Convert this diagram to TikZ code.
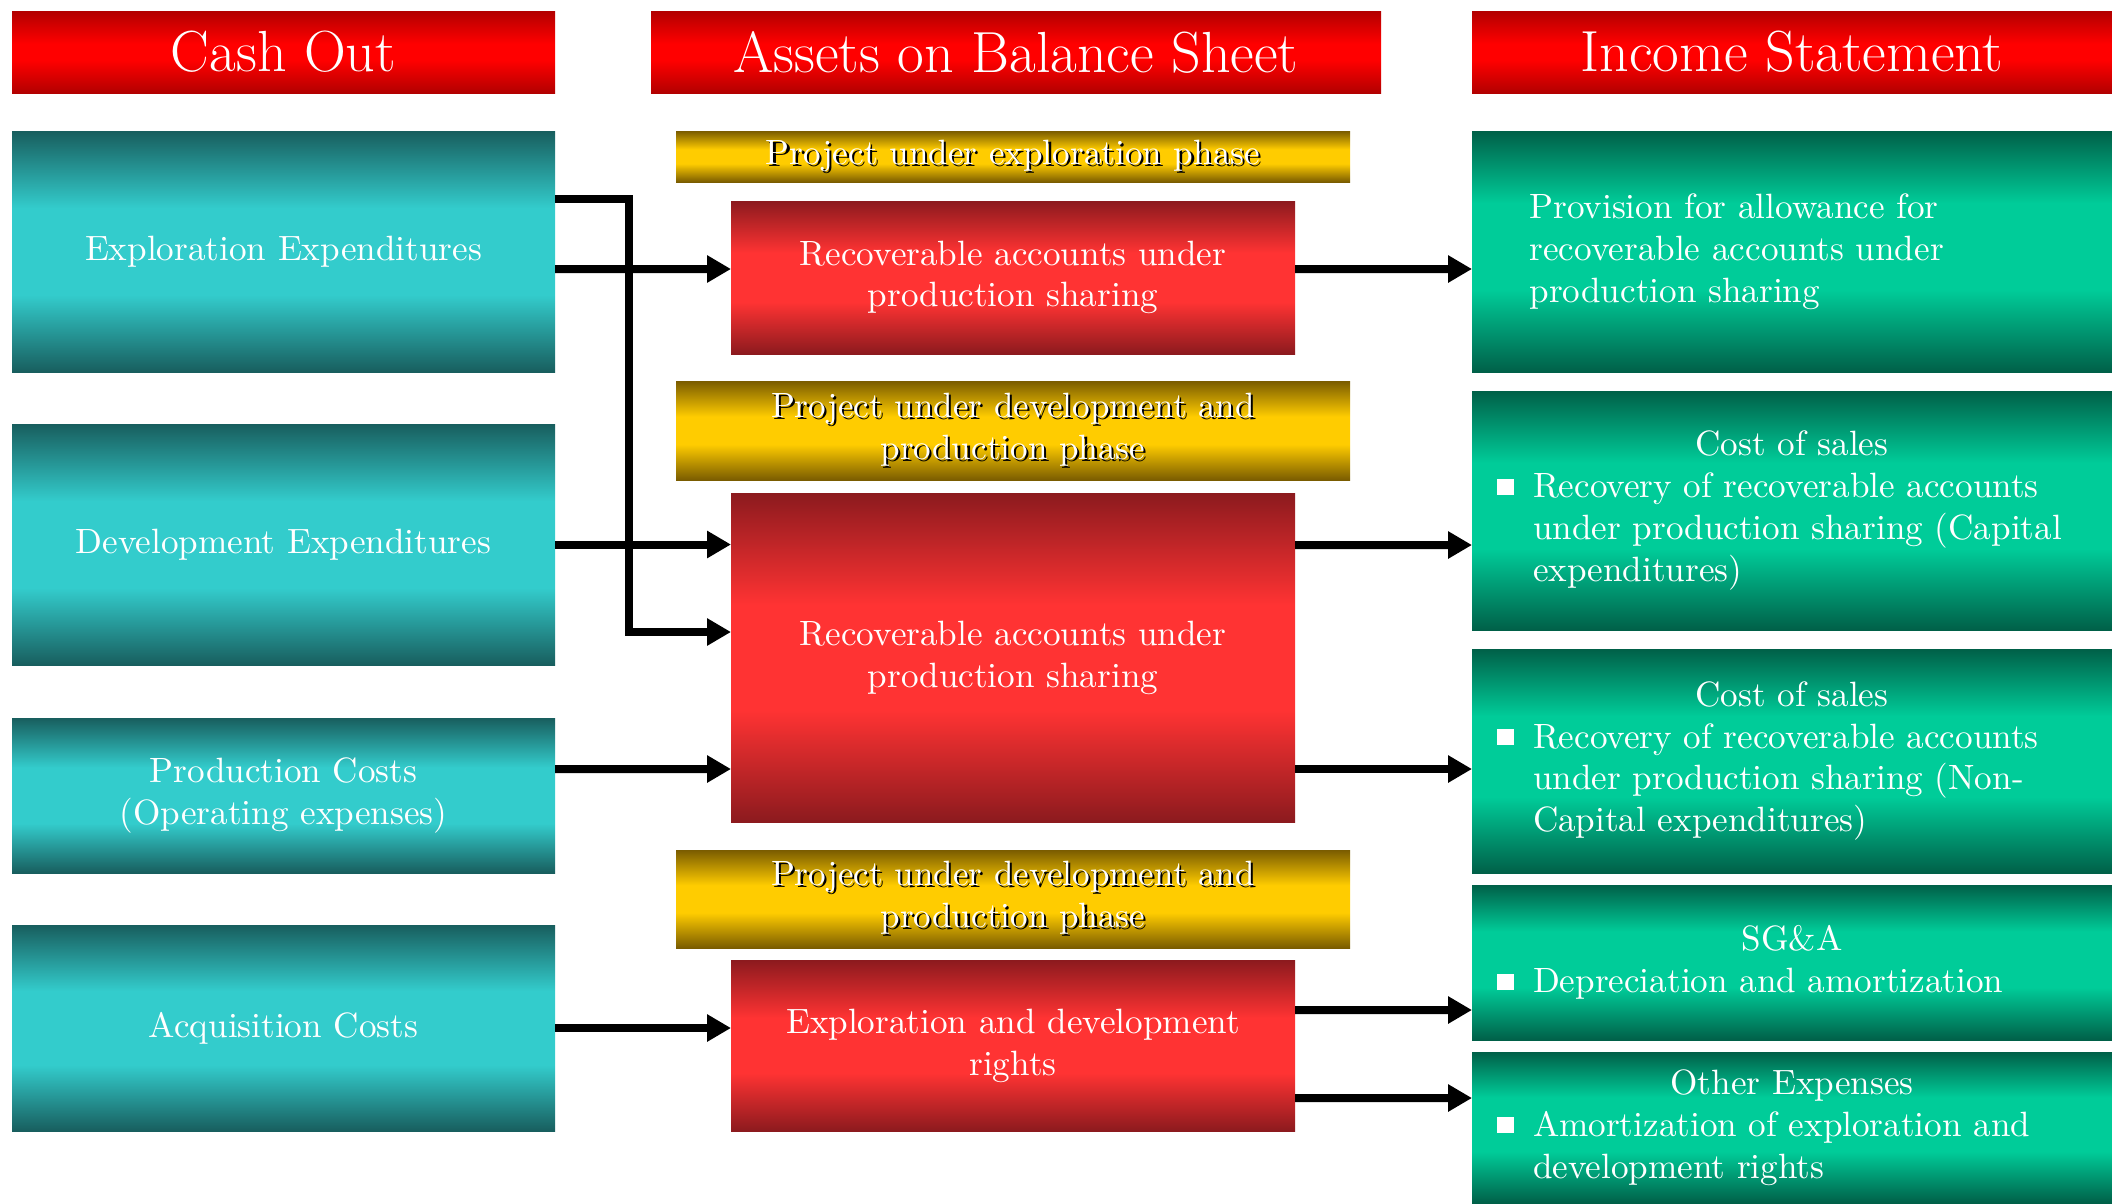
\documentclass[tikz,border=0pt]{standalone}
\usepackage{xcolor}
\usetikzlibrary{positioning, arrows.meta}

\definecolor{hdrdark}{RGB}{178,0,0}
\definecolor{hdrlight}{RGB}{255,0,0}
\definecolor{tealdark}{RGB}{24,94,94}
\definecolor{teallight}{RGB}{51,204,204}
\definecolor{golddark}{RGB}{122,92,0}
\definecolor{goldlight}{RGB}{255,204,0}
\definecolor{reddark}{RGB}{140,26,30}
\definecolor{redlight}{RGB}{255,51,51}
\definecolor{greendark}{RGB}{0,96,72}
\definecolor{greenlight}{RGB}{0,204,153}

\pgfdeclareverticalshading{hdrshade}{100bp}{color(0bp)=(hdrdark); color(25bp)=(hdrdark); color(45bp)=(hdrlight); color(55bp)=(hdrlight); color(75bp)=(hdrdark); color(100bp)=(hdrdark)}
\pgfdeclareverticalshading{tealshade}{100bp}{color(0bp)=(tealdark); color(25bp)=(tealdark); color(41bp)=(teallight); color(59bp)=(teallight); color(75bp)=(tealdark); color(100bp)=(tealdark)}
\pgfdeclareverticalshading{goldshade}{100bp}{color(0bp)=(golddark); color(25bp)=(golddark); color(43bp)=(goldlight); color(57bp)=(goldlight); color(75bp)=(golddark); color(100bp)=(golddark)}
\pgfdeclareverticalshading{redshade}{100bp}{color(0bp)=(reddark); color(25bp)=(reddark); color(42bp)=(redlight); color(58bp)=(redlight); color(75bp)=(reddark); color(100bp)=(reddark)}
\pgfdeclareverticalshading{greenshade}{100bp}{color(0bp)=(greendark); color(25bp)=(greendark); color(42bp)=(greenlight); color(60bp)=(greenlight); color(75bp)=(greendark); color(100bp)=(greendark)}

\newcommand{\shadowed}[1]{\makebox[0pt][l]{\hspace{0.6pt}\raisebox{-0.6pt}{\color{black}#1}}#1}
\newcommand{\sqbullet}{\makebox[0.36cm][l]{\rule[0.03cm]{0.17cm}{0.16cm}}}
\newcommand{\headline}[1]{{\centering #1\par}}
\newcommand{\bulletline}[1]{{\raggedright\hangindent=0.36cm\hangafter=1\noindent\sqbullet #1\par}}

\begin{document}
\begin{tikzpicture}[>={Triangle[length=0.24cm,width=0.26cm]},
    every node/.style={outer sep=0pt, inner sep=0pt, text=white, font=\fontsize{10}{11.9}\selectfont},
    header/.style={shade, shading=hdrshade, minimum height=0.82cm, font=\fontsize{16.5}{19}\selectfont},
    cashbox/.style={shade, shading=tealshade, minimum width=5.43cm, align=center},
    phasebox/.style={shade, shading=goldshade, minimum width=6.74cm, align=center},
    assetbox/.style={shade, shading=redshade, minimum width=5.64cm, align=center},
    incbox/.style={shade, shading=greenshade, minimum width=6.40cm},
    flow/.style={->, line width=0.08cm}]
        \useasboundingbox (0,0) rectangle (21.12,-12.03);

        % Headers
        \node (h1) [header, minimum width=5.43cm] at (2.835,-0.52) {Cash Out};
        \node (h2) [header, minimum width=7.30cm] at (10.16,-0.52) {Assets on Balance Sheet};
        \node (h3) [header, minimum width=6.40cm] at (17.92,-0.52) {Income Statement};

        % Cash out
        \node (c1) [cashbox, minimum height=2.41cm, below=0.38cm of h1] {Exploration Expenditures};
        \node (c2) [cashbox, minimum height=2.41cm, below=0.52cm of c1] {Development Expenditures};
        \node (c3) [cashbox, minimum height=1.55cm, below=0.53cm of c2] {Production Costs\\(Operating expenses)};
        \node (c4) [cashbox, minimum height=2.06cm, below=0.52cm of c3] {Acquisition Costs};

        % Balance sheet
        \node (p1) [phasebox, minimum height=0.51cm, below=0.38cm of h2, xshift=-0.03cm] {\shadowed{Project under exploration phase}};
        \node (a1) [assetbox, minimum height=1.53cm, below=0.19cm of p1] {Recoverable accounts under\\production sharing};
        \node (p2) [phasebox, minimum height=0.99cm, below=0.27cm of a1] {\shadowed{Project under development and}\\\shadowed{production phase}};
        \node (a2) [assetbox, minimum height=3.29cm, below=0.13cm of p2] {Recoverable accounts under\\production sharing};
        \node (p3) [phasebox, minimum height=0.98cm, below=0.28cm of a2] {\shadowed{Project under development and}\\\shadowed{production phase}};
        \node (a3) [assetbox, minimum height=1.71cm, below=0.12cm of p3] {Exploration and development\\rights};

        % Income statement
        \node (i1) [incbox, minimum height=2.41cm, below=0.38cm of h3, text width=5.25cm, align=left] {Provision for allowance for\\recoverable accounts under\\production sharing};
        \node (i2) [incbox, minimum height=2.39cm, below=0.19cm of i1, text width=5.90cm] {\headline{Cost of sales}\bulletline{Recovery of recoverable accounts\newline under production sharing (Capital\newline expenditures)}};
        \node (i3) [incbox, minimum height=2.24cm, below=0.19cm of i2, text width=5.90cm] {\headline{Cost of sales}\bulletline{Recovery of recoverable accounts\newline under production sharing (Non-\newline Capital expenditures)}};
        \node (i4) [incbox, minimum height=1.55cm, below=0.12cm of i3, text width=5.90cm] {\headline{SG\&A}\bulletline{Depreciation and amortization}};
        \node (i5) [incbox, minimum height=1.51cm, below=0.12cm of i4, text width=5.90cm] {\headline{Other Expenses}\bulletline{Amortization of exploration and\newline development rights}};

        % Arrows
        \draw[flow] ([yshift=-0.175cm]c1.east) -- ([yshift=0.085cm]a1.west);
        \draw[flow] ([yshift=0.525cm]c1.east) -- ++(0.74,0) |- ([yshift=0.255cm]a2.west);
        \draw[flow] (c2.east) -- (c2.east -| a2.west);
        \draw[flow] ([yshift=0.265cm]c3.east) -- ([yshift=-1.115cm]a2.west);
        \draw[flow] (c4.east) -- (c4.east -| a3.west);
        \draw[flow] ([yshift=0.085cm]a1.east) -- ([yshift=-0.175cm]i1.west);
        \draw[flow] ([yshift=1.125cm]a2.east) -- ([yshift=-0.345cm]i2.west);
        \draw[flow] ([yshift=-1.115cm]a2.east) -- ([yshift=-0.08cm]i3.west);
        \draw[flow] ([yshift=0.355cm]a3.east) -- ([yshift=-0.475cm]i4.west);
        \draw[flow] ([yshift=-0.525cm]a3.east) -- ([yshift=0.295cm]i5.west);

    \end{tikzpicture}
\end{document}
